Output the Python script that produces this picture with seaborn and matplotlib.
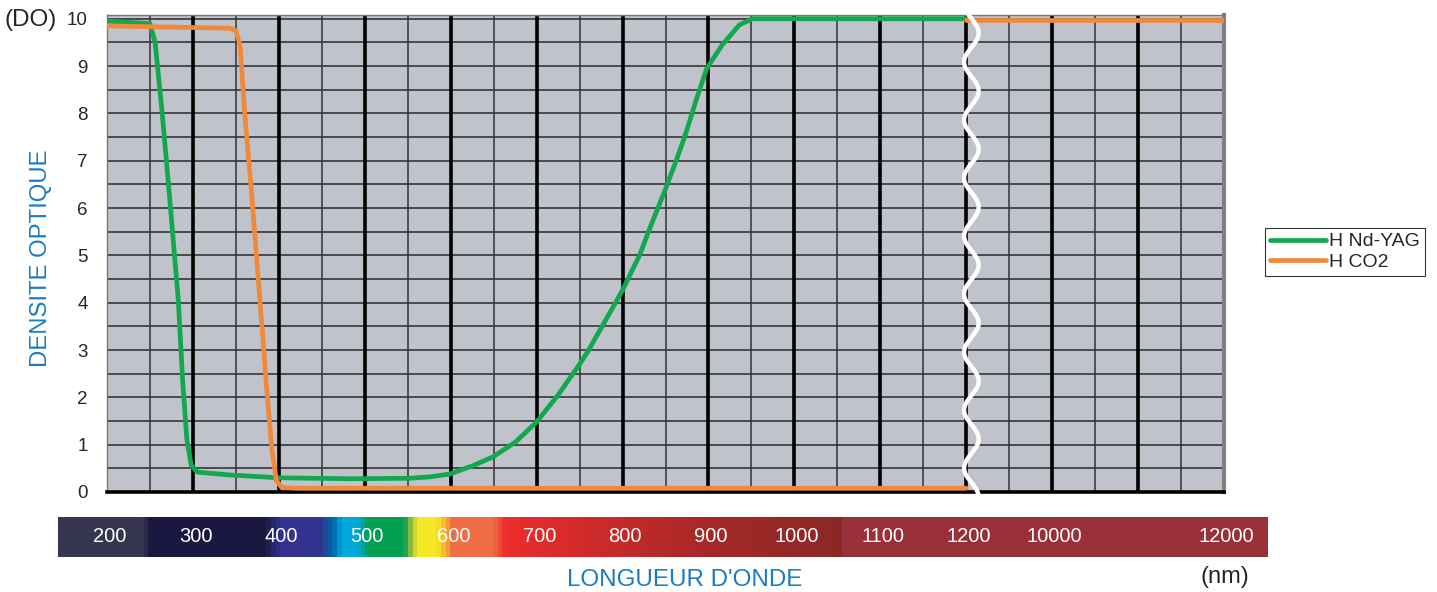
import numpy as np
import matplotlib
matplotlib.use("Agg")
import matplotlib.pyplot as plt
import seaborn as sns
from matplotlib.colors import LinearSegmentedColormap
from matplotlib.lines import Line2D

sns.set_style("white")
plt.rcParams['font.family'] = ['Liberation Sans', 'DejaVu Sans']

# wavelength (nm) vs optical density
yag_nm = [200, 250, 256, 264, 273, 283, 288, 293, 298, 305, 343, 401, 483, 552, 576,
          599, 625, 649, 675, 700, 725, 750, 759, 799, 820, 831, 851, 864, 874,
          886, 898, 916, 936, 951, 1200]
yag_do = [9.95, 9.9, 9.5, 8.05, 6.2, 4.05, 2.36, 1.1, 0.57, 0.42, 0.36, 0.3, 0.28, 0.29, 0.32,
          0.38, 0.55, 0.74, 1.05, 1.48, 2.05, 2.7, 2.95, 4.23, 5.01, 5.54, 6.45, 7.08, 7.6,
          8.3, 8.95, 9.45, 9.87, 10.0, 10.0]

co2_nm = [200, 343, 350, 355, 360, 369, 378, 386, 392, 397, 403, 420, 1200]
co2_do = [9.85, 9.8, 9.75, 9.43, 8.06, 6.16, 4.05, 2.15, 0.89, 0.25, 0.1, 0.08, 0.08]
co2_far_nm = [1200, 10000, 12000]
co2_far_do = [9.97, 9.97, 9.97]

scale_labels = ['200', '300', '400', '500', '600', '700', '800', '900', '1000',
                '1100', '1200', '10000', '12000']
scale_nm = [200, 300, 400, 500, 600, 700, 800, 900, 1000, 1100, 1200, 10000, 12000]


def to_pos(nm):
    # broken axis: 100 nm per unit up to 1200, then 10000 and 12000
    return np.interp(nm, [200, 1200, 10000, 12000], [0, 10, 11, 13])


fig = plt.figure(figsize=(14.37, 5.92), dpi=100)
W, H = 1437, 592
ax = fig.add_axes([107 / W, 1 - 492 / H, (1224 - 107) / W, (492 - 15) / H])
ax.set_facecolor('#c0c3cb')
ax.set_xlim(0, 13)
ax.set_ylim(0, 10.08)

# grid
for v in np.arange(0.5, 10.01, 0.5):
    ax.axhline(v, color='#2a2a2a', lw=1.1, zorder=1)
for v in np.arange(0.5, 13, 1.0):
    ax.axvline(v, color='#333333', lw=1.1, zorder=1)
for v in range(1, 13):
    ax.axvline(v, color='black', lw=2.6, zorder=1)

green = '#12a84e'
orange = '#f08a3a'
sns.lineplot(x=to_pos(yag_nm), y=yag_do, ax=ax, color=green, lw=3.4, sort=False, zorder=3)
sns.lineplot(x=to_pos(co2_nm), y=co2_do, ax=ax, color=orange, lw=3.4, sort=False, zorder=3)
sns.lineplot(x=to_pos(co2_far_nm), y=co2_far_do, ax=ax, color=orange, lw=3.4, sort=False, zorder=3)
for ln in ax.lines:
    ln.set_solid_joinstyle('round')

# wavy break line
wy = np.linspace(-0.1, 10.08, 600)
wx = 10.06 + 0.085 * np.cos(2 * np.pi * (wy - 9.7) / 1.226)
ax.plot(wx, wy, color='white', lw=3.2, zorder=4, clip_on=False)

# spines / ticks
for s in ['top', 'left']:
    ax.spines[s].set_color('#777777')
    ax.spines[s].set_linewidth(1)
ax.spines['right'].set_color('#808080')
ax.spines['right'].set_linewidth(3)
ax.spines['bottom'].set_color('black')
ax.spines['bottom'].set_linewidth(2.6)
ax.set_xticks(range(14))
ax.set_xticklabels([])
ax.tick_params(axis='x', direction='out', length=4, width=2, color='black')
ax.set_yticks(range(11))
ax.set_yticklabels([str(i) for i in range(11)], fontsize=13.5)
ax.tick_params(axis='y', direction='in', length=8, width=1.2, color='black', pad=14)
ax.set_xlabel('')
ax.set_ylabel('')

fig.text(4 / W, 1 - 20 / H, '(DO)', fontsize=17.5, va='center', ha='left')
fig.text(41 / W, 1 - 258 / H, 'DENSITE OPTIQUE', fontsize=17.2, color='#1a7cc2',
         rotation=90, va='center', ha='center')
fig.text(685 / W, 1 - 580 / H, "LONGUEUR D'ONDE", fontsize=17.4, color='#1a7cc2',
         va='center', ha='center')
fig.text(1225 / W, 1 - 577 / H, '(nm)', fontsize=17, va='center', ha='center')

# spectrum bar
stops = [(58, '#36364f'), (143, '#36364f'), (144, '#1b1840'), (262, '#1b1840'),
         (280, '#333390'), (318, '#33338f'), (332, '#0068a8'), (340, '#00a8dd'),
         (355, '#00a8dd'), (368, '#00a050'), (403, '#00a050'), (409, '#8ab840'),
         (416, '#f5e825'), (436, '#f5e825'), (446, '#f5a535'), (452, '#ef6e45'),
         (492, '#ef6e45'), (505, '#ec2d2d'), (515, '#ea2c2c'), (620, '#c42a2a'),
         (720, '#a32828'), (843, '#8a2825'), (845, '#993038'), (1268, '#993038')]
cmap = LinearSegmentedColormap.from_list(
    'spec', [((p - 58) / (1268 - 58), c) for p, c in stops])
bax = fig.add_axes([58 / W, 1 - 557 / H, (1268 - 58) / W, 40 / H])
x0 = (58 - 107) / ((1224 - 107) / 13)
x1 = (1268 - 107) / ((1224 - 107) / 13)
bax.imshow(np.linspace(0, 1, 1210)[None, :], aspect='auto', cmap=cmap,
           extent=[x0, x1, 0, 1])
bax.set_xlim(x0, x1)
bax.set_ylim(0, 1)
bax.axis('off')
for nm, lab in zip(scale_nm, scale_labels):
    bax.text(to_pos(nm) + 0.03, 0.5, lab, color='white', fontsize=14.5,
             ha='center', va='center')

handles = [Line2D([], [], color=green, lw=3.4), Line2D([], [], color=orange, lw=3.4)]
leg = fig.legend(handles, ['H Nd-YAG', 'H CO2'], loc='upper left',
                 bbox_to_anchor=(1265 / W, 1 - 228 / H), fontsize=14,
                 frameon=True, fancybox=False, handlelength=2.9, handletextpad=0.15,
                 borderpad=0.25, labelspacing=0.15, borderaxespad=0)
leg.get_frame().set_edgecolor('black')
leg.get_frame().set_linewidth(0.8)

fig.savefig('out.png', dpi=100)
